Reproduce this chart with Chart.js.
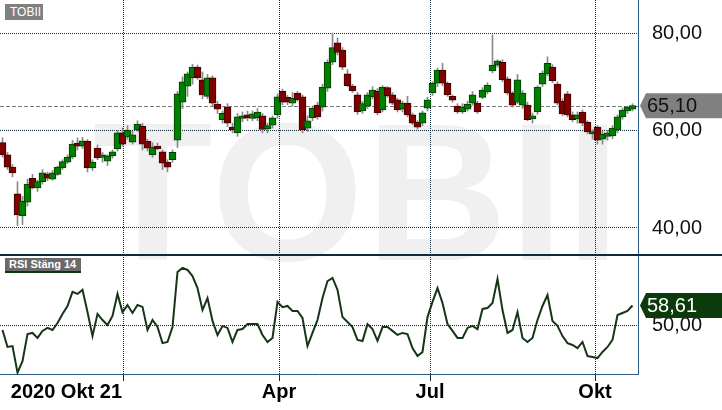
<!DOCTYPE html>
<html>
<head>
<meta charset="utf-8">
<script src="https://cdn.jsdelivr.net/npm/chart.js@4.4.0/dist/chart.umd.min.js"></script>
<style>
  html, body { margin: 0; padding: 0; background: #fff; }
  #wrap { position: relative; width: 722px; height: 410px; overflow: hidden; font-family: "Liberation Sans", Arial, sans-serif; }
  #mark { position: absolute; left: 93px; top: 95px; font-size: 196px; line-height: 196px; font-weight: bold; color: #f0f0f0; letter-spacing: 2px; white-space: nowrap; z-index: 0; }
  canvas { position: absolute; left: 0; z-index: 1; }
  #top { top: 0; }
  #bot { top: 255px; }
  #sep { position: absolute; left: 0; top: 254px; width: 722px; height: 2px; background: #0d2b3e; z-index: 2; }
  .tag { position: absolute; color: #fff; white-space: nowrap; z-index: 3; }
</style>
</head>
<body>
<div id="wrap">
  <div id="mark">TOBII</div>
  <canvas id="top" width="722" height="255"></canvas>
  <canvas id="bot" width="722" height="155"></canvas>
  <div id="sep"></div>
  <div class="tag" style="left:5px;top:4px;width:38px;height:16px;background:#808080;font-size:12px;line-height:16px;text-indent:5px;">TOBII</div>
  <div class="tag" style="left:5px;top:258px;width:76px;height:13px;background:#6a6a6a;border-bottom:2px solid #0a3a0a;font-size:11px;font-weight:bold;line-height:13px;text-indent:4px;">RSI Stäng 14</div>
</div>
<script>
// daily candles (every other session)
const opens = [57.5,55,52.5,47,42.5,45.3,50.2,48.2,49.5,51,50,51,52.3,53.5,54.6,57.4,56.8,57.8,52.3,56.4,
  54.5,53.7,54.8,56.2,59.5,58.7,57.6,60.1,60.9,57.8,55,56.8,55.6,53.5,54,58,65.8,69.1,70.8,73,
  70.4,67,70.8,65.4,62.2,64.8,60.7,59.5,62.5,63.2,62.5,62.6,63,60.3,61.1,63.2,68.1,66.8,65.6,67.7,
  66.9,60.5,62.6,65.2,64.8,68.7,74,78,76.5,71.6,69.1,67.3,64,65,66.9,68.1,64.2,68.8,67.3,66.3,
  64.4,65.6,63.2,61.7,61.5,64.6,67.7,69.7,72.4,69.7,67,65,63.8,64.4,65.6,65.6,66.8,67.9,72.2,73.4,
  74,70.6,67.7,65.8,65.2,65.2,62.4,63.8,69.5,71.6,73,69.5,66,67.5,63.2,62.4,63.8,61.7,59.3,60.7,
  58.2,58.8,58.9,60.1,62.8,64,64.4];
const highs = [58.5,55.5,53,49.5,46.5,50,51,49.8,52,51.5,51.8,52.7,54,55,58,58.5,58.6,58.2,54,57,
  55.5,55,56,60,60.5,61,59.8,62,61.5,58.2,57.5,57.4,56,54,56,68,71,72,73.6,73.4,
  72,71.5,71.2,66,64,65.5,61.5,63.5,63.8,64,64,64.5,63.5,61.5,63,67.5,68.5,67.2,67.8,68,
  67.3,63,65,65.8,69.5,74.5,80,79,77,72.5,69.5,67.8,66,67.8,69,68.6,69.2,69,67.8,66.6,
  66,67,63.6,62,64,66.8,70,72.8,73.8,70,67.3,65.5,65.5,66,68,66,68.8,69.8,79.6,74.5,
  74.5,71,68,71.5,68.2,65.8,63.6,69.2,72.2,75.1,73.5,70,66.5,68,63.8,63.8,64.2,62,60.2,61,
  59.8,60,61,63.2,64.6,65,65.5];
const lows = [54.5,52,50.5,40.5,40.7,44.5,48,47.5,49,49.7,49.8,50.8,52,53.2,54.2,56,56.3,51.5,51.8,54,
  53.5,52.8,54.3,55.8,56.8,58.2,57.2,59.8,56,55.8,54.5,56,52,51.5,53.5,56.5,64.5,67,69.5,70.5,
  66.5,66.5,65,63.5,61.5,60.8,59.5,58.8,61.8,62,62,62,59.5,59.5,60.5,62.5,65.3,65.3,65,66,
  59.5,59.8,62,62.3,64,68,73.5,75.5,72.5,69,67.8,63.3,63.5,64.5,66.5,63.2,63.8,66.8,65.3,63.8,
  63.8,62.8,61.2,60.3,61,64,67.2,69,69.2,67,65.8,63.5,63.5,64,65.2,63.5,66.5,67.5,71.8,73,
  70,67.3,64.8,65.5,64.5,62,61.5,63.3,69,71.2,69.8,65.2,63,62.8,61.8,61.5,61,59.3,58.2,57.2,
  57.2,58,58.3,59.5,62.3,63.5,64];
const closes = [55,52.5,51.3,42.7,45.5,49,48.2,49.5,51.3,50.2,51.3,52.5,53.6,54.5,57.2,56.8,57.9,52.3,53.5,54.4,
  55,54.8,55.6,59.5,57.2,60.1,59.1,61.3,57.2,56.4,56.6,56.2,53.3,52.5,55.5,67.5,70,71.6,73,70.8,
  67.3,70.8,65.6,64.4,63.5,61.5,60.1,62.8,63,62.6,63.4,63.8,60.2,61,62.6,66.9,65.8,65.8,66.6,66.3,
  60.1,62,64.6,62.8,68.9,74,77,76,73,69.2,68.1,63.8,65.5,67.3,68.3,63.6,68.9,67.1,65.6,64.2,
  65.6,63.2,61.5,60.7,63.6,66.3,69.7,72.4,69.7,67.3,66.2,63.8,64.8,65.4,67.3,63.8,68.3,69.3,73.4,74.3,
  70.4,67.7,65.2,70.4,67.7,62.2,63,68.9,71.8,73.8,70.2,65.6,63.4,63.2,62.2,63.2,61.5,59.7,59.8,58,
  59.2,59.5,60.5,62.8,64.2,64.8,65.1];
const rsi = [47.8,40.3,40.7,29,34,46,46.5,44.3,47.4,48.7,47.8,50.9,54.9,58.4,64.6,63.7,65.5,55.7,45.1,54.9,
  52.2,50,54,63.7,55.7,58.8,55.3,58.8,58,47.8,52.2,49.1,42,42.5,49.1,73.4,75.2,74.3,71.6,66.3,
  56.6,61.9,51.8,45.6,49.6,48.7,42.5,47.8,48.2,50.4,50.4,50.4,45.6,42.5,44.3,60.2,57.9,58.4,56.2,56.2,
  53.1,40.7,46.5,52.2,61.9,69.4,70.8,65.5,53.5,51.3,49.1,43.4,42.9,50.4,48.2,43,49.1,49.1,47.4,45.6,
  46.5,46,39.8,36.3,38.1,53.5,60.2,66.3,59.7,50.4,47.4,44.3,44.3,48.7,49.6,48.2,57.1,57.5,59.7,70.3,
  56.6,46.5,47.8,55.7,44.3,42.5,44.3,52.2,58.4,63.2,51.8,49.6,45.1,42,41.2,39.8,42.5,36.3,35.9,35.4,
  38.1,40.3,43.4,54.4,55.3,56.2,58.61];

const tickIdx = [24.1, 55.3, 85.5, 118.5];
const tickLabels = ['2020 Okt 21', 'Apr', 'Jul', 'Okt'];
const priceTicks = [40, 60, 80];
const rsiTicks = [50];

const FONT = '"Liberation Sans", Arial, sans-serif';
const GRID = '#10283a';
const AXIS = '#2b5b86';
const xMin = -0.5, xMax = 127.1;

const lastClose = closes[closes.length - 1];
const lastRsi = rsi[rsi.length - 1];
const idx = closes.map((_, i) => i);
const fmt = v => v.toFixed(2).replace('.', ',');

// keep the plot areas fixed: 84px price axis on the right, no label padding
function fixY(s) { s.width = 84; s.paddingTop = 0; s.paddingBottom = 0; }
function fixX(h) { return s => { s.height = h; s.paddingLeft = 0; s.paddingRight = 0; }; }
function monthTicks(s) { s.ticks = tickIdx.map(v => ({ value: v })); }

function drawTag(chart, v, bg, fg) {
  const { ctx, chartArea, scales } = chart;
  const y = scales.y.getPixelForValue(v);
  const x0 = chartArea.right + 2, x1 = x0 + 6, x2 = chart.width;
  ctx.save();
  ctx.fillStyle = bg;
  ctx.beginPath();
  ctx.moveTo(x0, y);
  ctx.lineTo(x1, y - 12.5);
  ctx.lineTo(x2, y - 12.5);
  ctx.lineTo(x2, y + 12.5);
  ctx.lineTo(x1, y + 12.5);
  ctx.closePath();
  ctx.fill();
  ctx.fillStyle = fg;
  ctx.font = '20px ' + FONT;
  ctx.textAlign = 'left';
  ctx.textBaseline = 'middle';
  ctx.fillText(fmt(v), chartArea.right + 9, y + 1);
  ctx.restore();
}

const priceLine = {
  id: 'priceLine',
  beforeDatasetsDraw(chart) {
    const { ctx, chartArea, scales } = chart;
    const y = Math.round(scales.y.getPixelForValue(lastClose)) + 0.5;
    ctx.save();
    ctx.strokeStyle = '#7a7a7a';
    ctx.lineWidth = 1;
    ctx.setLineDash([4, 2]);
    ctx.beginPath();
    ctx.moveTo(chartArea.left, y);
    ctx.lineTo(chartArea.right, y);
    ctx.stroke();
    ctx.restore();
  },
  afterDraw(chart) { drawTag(chart, lastClose, '#808080', '#111'); }
};

const rsiTag = {
  id: 'rsiTag',
  afterDraw(chart) { drawTag(chart, lastRsi, '#0b3a0b', '#fff'); }
};

const monthLabels = {
  id: 'monthLabels',
  afterDraw(chart) {
    const { ctx, scales } = chart;
    ctx.save();
    ctx.fillStyle = '#000';
    ctx.font = 'bold 20px ' + FONT;
    ctx.textBaseline = 'alphabetic';
    tickIdx.forEach((v, i) => {
      const x = scales.x.getPixelForValue(v);
      ctx.textAlign = i === 0 ? 'right' : 'center';
      ctx.fillText(tickLabels[i], i === 0 ? x - 1 : x, chart.height - 12);
    });
    ctx.restore();
  }
};

const yTickOpts = { padding: 14, color: '#111', font: { family: FONT, size: 20 }, callback: v => fmt(v) };

new Chart(document.getElementById('top'), {
  type: 'bar',
  data: {
    datasets: [
      {
        data: idx.map(i => ({ x: i, y: [opens[i], closes[i]] })),
        backgroundColor: idx.map(i => closes[i] >= opens[i] ? '#008000' : '#800000'),
        borderColor: idx.map(i => closes[i] >= opens[i] ? '#053805' : '#3c0000'),
        borderWidth: 1, borderSkipped: false, barThickness: 7, grouped: false, order: 1
      },
      {
        data: idx.map(i => ({ x: i, y: [lows[i], highs[i]] })),
        backgroundColor: '#8a8a8a', barThickness: 1, grouped: false, order: 2
      }
    ]
  },
  options: {
    responsive: false, animation: false, events: [],
    layout: { padding: 0 },
    plugins: { legend: { display: false }, tooltip: { enabled: false } },
    scales: {
      x: {
        type: 'linear', min: xMin, max: xMax, offset: false,
        afterBuildTicks: monthTicks, afterFit: fixX(0),
        ticks: { display: false },
        grid: { offset: false, color: GRID, drawTicks: false },
        border: { display: false, dash: [1, 1] }
      },
      y: {
        position: 'right', min: 34.46, max: 86.77,
        afterBuildTicks: s => { s.ticks = priceTicks.map(v => ({ value: v })); },
        afterFit: fixY,
        ticks: yTickOpts,
        grid: { color: GRID, drawTicks: false },
        border: { display: true, color: AXIS, width: 1, dash: [1, 1] }
      }
    }
  },
  plugins: [priceLine]
});

new Chart(document.getElementById('bot'), {
  type: 'line',
  data: {
    datasets: [{
      data: idx.map(i => ({ x: i, y: rsi[i] })),
      borderColor: '#163516', borderWidth: 2, pointRadius: 0, tension: 0, fill: false
    }]
  },
  options: {
    responsive: false, animation: false, events: [],
    layout: { padding: 0 },
    plugins: { legend: { display: false }, tooltip: { enabled: false } },
    scales: {
      x: {
        type: 'linear', min: xMin, max: xMax, offset: false,
        afterBuildTicks: monthTicks, afterFit: fixX(36),
        ticks: { display: false },
        grid: { offset: false, color: GRID, drawTicks: true, tickLength: 7, tickColor: GRID, tickBorderDash: [] },
        border: { display: true, color: AXIS, width: 1, dash: [1, 1] }
      },
      y: {
        position: 'right', min: 28.37, max: 80.9,
        afterBuildTicks: s => { s.ticks = rsiTicks.map(v => ({ value: v })); },
        afterFit: fixY,
        ticks: yTickOpts,
        grid: { color: GRID, drawTicks: false },
        border: { display: true, color: AXIS, width: 1, dash: [1, 1] }
      }
    }
  },
  plugins: [rsiTag, monthLabels]
});
</script>
</body>
</html>
